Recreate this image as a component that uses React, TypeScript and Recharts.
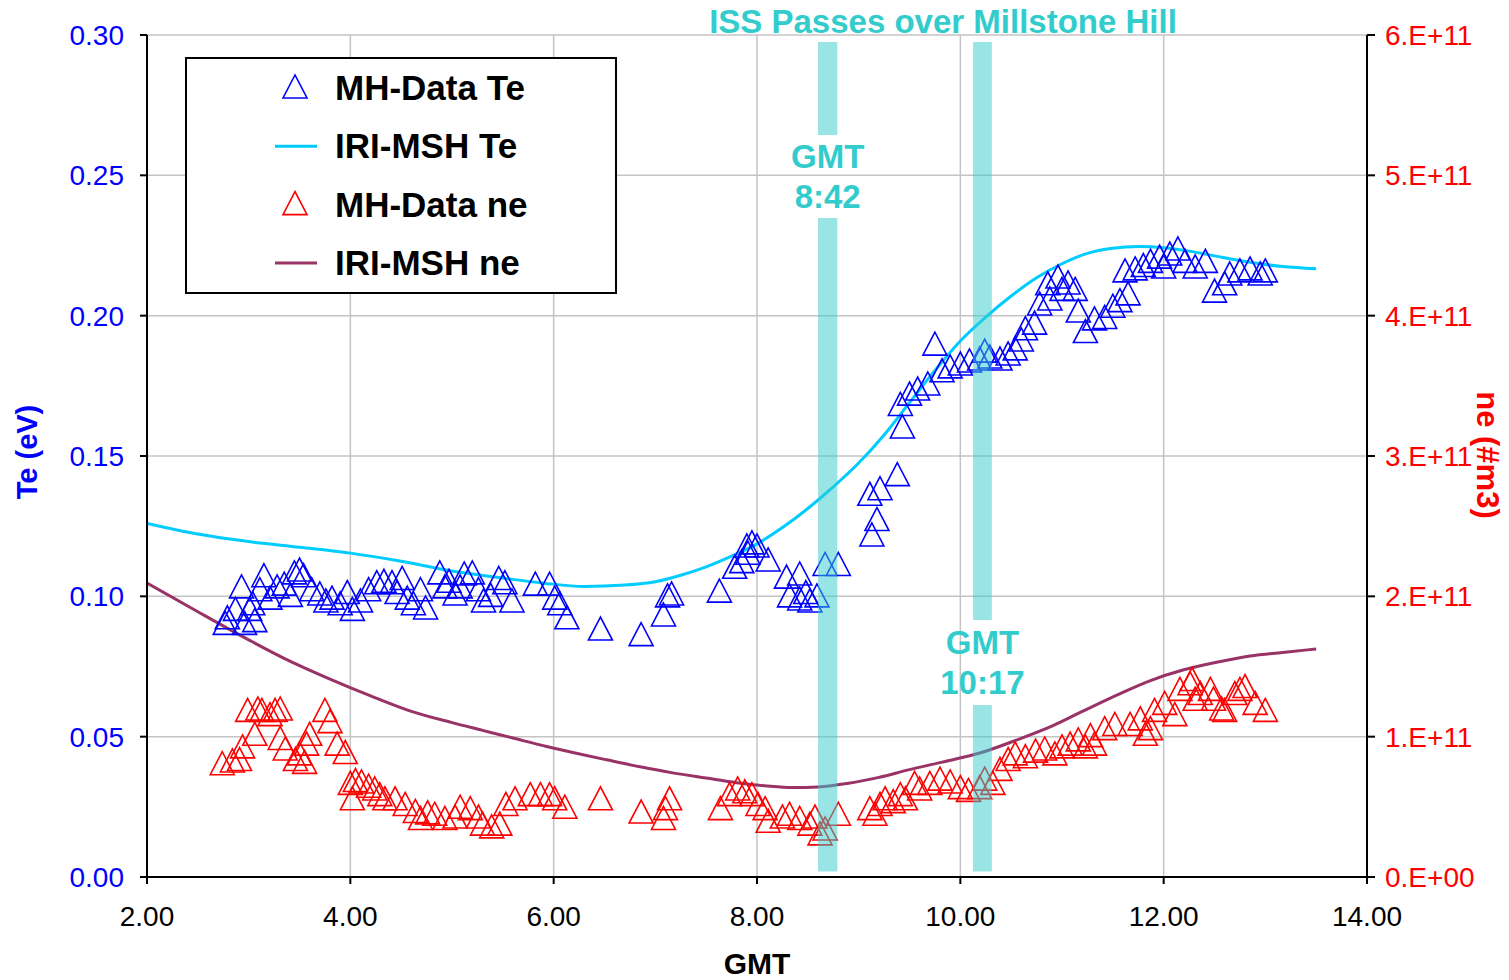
import React from 'react';
import {
  ComposedChart, Line, Scatter, XAxis, YAxis, CartesianGrid, ReferenceArea, Legend,
} from 'recharts';

const FONT = '"Liberation Sans", Arial, Helvetica, sans-serif';
const BLUE = '#0000FF';
const RED = '#FF0000';
const TE_LINE = '#00CCFF';
const NE_LINE = '#993366';
const ISS = '#33CCCC';

// MH-Data Te : [GMT hour, Te (eV)]
const teData: [number, number][] = [
  [2.77, 0.090], [2.79, 0.092], [2.87, 0.095], [2.93, 0.103], [2.96, 0.090], [3.01, 0.095],
  [3.04, 0.097], [3.06, 0.091], [3.11, 0.102], [3.15, 0.107], [3.21, 0.099], [3.28, 0.103],
  [3.35, 0.104], [3.41, 0.100], [3.45, 0.108], [3.50, 0.109], [3.54, 0.107], [3.62, 0.102],
  [3.70, 0.1005], [3.76, 0.098], [3.82, 0.099], [3.90, 0.097], [3.97, 0.101], [4.02, 0.095],
  [4.10, 0.098], [4.18, 0.102], [4.26, 0.1045], [4.33, 0.105], [4.41, 0.1045], [4.46, 0.101],
  [4.51, 0.106], [4.56, 0.099], [4.62, 0.097], [4.69, 0.102], [4.74, 0.0955], [4.88, 0.108],
  [4.93, 0.103], [4.97, 0.105], [5.03, 0.1005], [5.08, 0.103], [5.12, 0.1076], [5.20, 0.108],
  [5.26, 0.102], [5.31, 0.098], [5.38, 0.100], [5.46, 0.106], [5.52, 0.1045], [5.59, 0.098],
  [5.82, 0.104], [5.96, 0.104], [6.01, 0.099], [6.06, 0.097], [6.13, 0.092], [6.46, 0.088],
  [6.86, 0.086], [7.08, 0.093], [7.12, 0.0998], [7.16, 0.1005], [7.63, 0.1015], [7.78, 0.110],
  [7.85, 0.112], [7.91, 0.115], [7.90, 0.1176], [7.95, 0.1187], [8.00, 0.1176], [8.11, 0.1126],
  [8.29, 0.1065], [8.32, 0.0998], [8.42, 0.1076], [8.42, 0.0987], [8.48, 0.101], [8.52, 0.098],
  [8.59, 0.0998], [8.67, 0.111], [8.80, 0.111], [9.11, 0.136], [9.13, 0.1215], [9.18, 0.127],
  [9.21, 0.138], [9.38, 0.143], [9.41, 0.168], [9.43, 0.160], [9.50, 0.1717], [9.58, 0.1735],
  [9.68, 0.1753], [9.75, 0.1895], [9.82, 0.180], [9.90, 0.1814], [10.00, 0.1824], [10.09, 0.1835],
  [10.19, 0.1842], [10.24, 0.187], [10.29, 0.1849], [10.39, 0.1842], [10.47, 0.186], [10.54, 0.1878],
  [10.60, 0.191], [10.64, 0.195], [10.73, 0.197], [10.78, 0.2038], [10.86, 0.211], [10.88, 0.2056],
  [10.96, 0.2134], [11.00, 0.209], [11.06, 0.2113], [11.13, 0.209], [11.16, 0.2013], [11.23, 0.194],
  [11.32, 0.1985], [11.42, 0.199], [11.50, 0.203], [11.57, 0.205], [11.62, 0.2156], [11.65, 0.2074],
  [11.72, 0.2163], [11.80, 0.2175], [11.87, 0.219], [11.96, 0.2205], [12.00, 0.217], [12.06, 0.2216],
  [12.14, 0.2234], [12.21, 0.219], [12.31, 0.217], [12.41, 0.219], [12.50, 0.2084], [12.60, 0.211],
  [12.65, 0.2145], [12.75, 0.2156], [12.85, 0.2163], [12.95, 0.2145], [13.00, 0.2156],
];

// MH-Data ne : [GMT hour, ne in 1E+11 #/m3]
const neData: [number, number][] = [
  [2.74, 0.80], [2.84, 0.82], [2.91, 0.83], [2.94, 0.92], [2.99, 1.18], [3.06, 1.01], [3.09, 1.19],
  [3.13, 1.18], [3.21, 1.15], [3.26, 1.18], [3.31, 1.19], [3.31, 0.98], [3.36, 0.905], [3.46, 0.83],
  [3.50, 0.87], [3.55, 0.81], [3.57, 0.94], [3.60, 1.01], [3.75, 1.18], [3.80, 1.10], [3.87, 0.94],
  [3.95, 0.88], [4.00, 0.66], [4.02, 0.55], [4.05, 0.68], [4.11, 0.67], [4.18, 0.64], [4.24, 0.62],
  [4.29, 0.58], [4.34, 0.55], [4.44, 0.55], [4.54, 0.51], [4.64, 0.46], [4.69, 0.41], [4.76, 0.45],
  [4.83, 0.44], [4.93, 0.41], [5.03, 0.42], [5.08, 0.49], [5.18, 0.48], [5.26, 0.42], [5.30, 0.37],
  [5.39, 0.35], [5.47, 0.37], [5.53, 0.51], [5.62, 0.55], [5.77, 0.58], [5.87, 0.58], [5.96, 0.58],
  [6.01, 0.55], [6.11, 0.49], [6.46, 0.55], [6.86, 0.456], [7.08, 0.41], [7.10, 0.48], [7.14, 0.55],
  [7.64, 0.48], [7.73, 0.58], [7.81, 0.62], [7.88, 0.60], [7.95, 0.58], [8.01, 0.51], [8.08, 0.48],
  [8.11, 0.39], [8.25, 0.42], [8.32, 0.44], [8.42, 0.41], [8.52, 0.37], [8.57, 0.42], [8.62, 0.30],
  [8.67, 0.335], [8.80, 0.44], [9.11, 0.48], [9.16, 0.44], [9.21, 0.51], [9.26, 0.55], [9.34, 0.53],
  [9.41, 0.58], [9.46, 0.55], [9.55, 0.66], [9.60, 0.62], [9.70, 0.66], [9.80, 0.69], [9.90, 0.67],
  [10.00, 0.63], [10.08, 0.61], [10.19, 0.63], [10.24, 0.69], [10.32, 0.66], [10.39, 0.76],
  [10.47, 0.83], [10.54, 0.87], [10.64, 0.85], [10.74, 0.89], [10.83, 0.905], [10.93, 0.87],
  [11.00, 0.92], [11.08, 0.94], [11.16, 0.97], [11.23, 0.92], [11.28, 1.00], [11.32, 0.94],
  [11.42, 1.05], [11.52, 1.08], [11.67, 1.08], [11.77, 1.12], [11.82, 1.01], [11.87, 1.05],
  [11.91, 1.18], [12.01, 1.23], [12.11, 1.15], [12.16, 1.33], [12.26, 1.37], [12.28, 1.40],
  [12.31, 1.26], [12.36, 1.30], [12.46, 1.33], [12.49, 1.26], [12.57, 1.19], [12.60, 1.18],
  [12.70, 1.30], [12.75, 1.33], [12.80, 1.35], [12.90, 1.23], [13.00, 1.18],
];

// IRI-MSH model Te (eV)
const iriTe: [number, number][] = [
  [2.0, 0.126], [2.5, 0.1222], [3.0, 0.1195], [3.5, 0.1175], [4.0, 0.1154], [4.5, 0.1125],
  [5.0, 0.109], [5.5, 0.1065], [5.9, 0.1047], [6.3, 0.1035], [6.7, 0.104], [7.0, 0.1052],
  [7.25, 0.1075], [7.5, 0.1105], [7.75, 0.1143], [8.0, 0.1187], [8.25, 0.1245], [8.5, 0.1313],
  [8.75, 0.139], [9.0, 0.1475], [9.25, 0.1575], [9.5, 0.169], [9.75, 0.1805], [10.0, 0.191],
  [10.25, 0.1995], [10.5, 0.207], [10.75, 0.2135], [11.0, 0.2185], [11.25, 0.2222], [11.5, 0.224],
  [11.75, 0.2246], [12.0, 0.2242], [12.25, 0.223], [12.5, 0.2213], [12.85, 0.219], [13.17, 0.2175],
  [13.5, 0.2167],
];

// IRI-MSH model ne (1E+11 #/m3)
const iriNe: [number, number][] = [
  [2.0, 2.095], [2.5, 1.89], [3.0, 1.69], [3.4, 1.54], [3.8, 1.41], [4.2, 1.29], [4.6, 1.18],
  [5.0, 1.10], [5.3, 1.045], [5.6, 0.99], [5.93, 0.93], [6.2, 0.885], [6.52, 0.835], [6.85, 0.785],
  [7.17, 0.742], [7.5, 0.705], [7.8, 0.672], [8.1, 0.648], [8.35, 0.637], [8.6, 0.642], [8.9, 0.668],
  [9.2, 0.71], [9.5, 0.765], [9.8, 0.815], [10.2, 0.885], [10.55, 0.975], [10.9, 1.075],
  [11.2, 1.18], [11.55, 1.30], [11.87, 1.40], [12.19, 1.475], [12.52, 1.53], [12.85, 1.575],
  [13.17, 1.60], [13.5, 1.625],
];

const xTicks = [2, 4, 6, 8, 10, 12, 14];
const teTicks = [0, 0.05, 0.1, 0.15, 0.2, 0.25, 0.3];
const neTicks = [0, 1, 2, 3, 4, 5, 6];

// ISS passes: band edges in GMT hours, label gap in Te units
const passes = [
  { time: '8:42', x1: 8.6, x2: 8.79, gapLow: 0.2348, gapHigh: 0.2644 },
  { time: '10:17', x1: 10.125, x2: 10.31, gapLow: 0.0613, gapHigh: 0.0916 },
];
const bandTop = 0.2975;
const bandBottom = 0.002;

const legendItems = [
  { name: 'MH-Data Te', kind: 'marker', color: BLUE },
  { name: 'IRI-MSH Te', kind: 'line', color: TE_LINE },
  { name: 'MH-Data ne', kind: 'marker', color: RED },
  { name: 'IRI-MSH ne', kind: 'line', color: NE_LINE },
];

const toPts = (arr: [number, number][]) => arr.map(([x, y]) => ({ x, y }));

const triPoints = (cx: number, cy: number) =>
  `${cx},${cy - 13} ${cx - 12},${cy + 10} ${cx + 12},${cy + 10}`;

const triangle = (color: string) => (props: any) => {
  const { cx, cy } = props;
  if (cx == null || cy == null) return <g />;
  return <polygon points={triPoints(cx, cy)} fill="none" stroke={color} strokeWidth={1.6} />;
};

const renderLegend = () => (
  <svg width={432} height={237} style={{ display: 'block', fontFamily: FONT }}>
    <rect x={1} y={1} width={430} height={235} fill="#fff" stroke="#000" strokeWidth={2} />
    {legendItems.map((it, i) => {
      const y = 31 + i * 58.3;
      return (
        <g key={it.name}>
          {it.kind === 'marker' ? (
            <polygon points={triPoints(110, y)} fill="none" stroke={it.color} strokeWidth={1.6} />
          ) : (
            <line x1={90} x2={132} y1={y} y2={y} stroke={it.color} strokeWidth={3} />
          )}
          <text x={150} y={y + 12} fontSize={35} fontWeight="bold" fill="#000">{it.name}</text>
        </g>
      );
    })}
  </svg>
);

const gapLabel = (time: string) => (props: any) => {
  const { x, y, width, height } = props.viewBox;
  const cx = x + width / 2;
  const cy = y + height / 2;
  return (
    <text textAnchor="middle" fill={ISS} fontSize={33} fontWeight="bold" fontFamily={FONT}>
      <tspan x={cx} y={cy - 8}>GMT</tspan>
      <tspan x={cx} y={cy + 32}>{time}</tspan>
    </text>
  );
};

export default function App() {
  return (
    <div style={{ position: 'absolute', left: 0, top: 0, width: 1509, height: 980, background: '#fff', fontFamily: FONT }}>
      <div
        style={{
          position: 'absolute', left: 643, top: 5, width: 600, textAlign: 'center', zIndex: 2,
          fontSize: 33, lineHeight: '33px', fontWeight: 'bold', color: ISS,
        }}
      >
        ISS Passes over Millstone Hill
      </div>
      <ComposedChart width={1509} height={980} margin={{ top: 35, right: 0, bottom: 0, left: 0 }}>
        <CartesianGrid yAxisId="te" stroke="#C4C4C4" strokeWidth={1.5} />
        <XAxis
          type="number" dataKey="x" domain={[2, 14]} ticks={xTicks} height={103}
          tickFormatter={(v: number) => v.toFixed(2)}
          tick={{ fill: '#000', fontSize: 28, fontFamily: FONT }}
          tickSize={7} tickMargin={22}
          axisLine={{ stroke: '#000', strokeWidth: 2 }} tickLine={{ stroke: '#000', strokeWidth: 2 }}
          label={{ value: 'GMT', position: 'insideBottom', offset: 6, fill: '#000', fontSize: 30, fontWeight: 'bold', fontFamily: FONT }}
          allowDataOverflow
        />
        <YAxis
          yAxisId="te" type="number" dataKey="y" domain={[0, 0.3]} ticks={teTicks} width={147}
          tickFormatter={(v: number) => v.toFixed(2)}
          tick={{ fill: BLUE, fontSize: 28, fontFamily: FONT }}
          tickSize={7} tickMargin={16}
          axisLine={{ stroke: '#000', strokeWidth: 2 }} tickLine={{ stroke: '#000', strokeWidth: 2 }}
          label={{
            content: () => (
              <text x={27} y={452} transform="rotate(-90, 27, 452)" textAnchor="middle" dominantBaseline="central"
                fill={BLUE} fontSize={29} fontWeight="bold" fontFamily={FONT}>Te (eV)</text>
            ),
          }}
          allowDataOverflow
        />
        <YAxis
          yAxisId="ne" orientation="right" type="number" dataKey="y" domain={[0, 6]} ticks={neTicks} width={142}
          tickFormatter={(v: number) => (v === 0 ? '0.E+00' : `${v}.E+11`)}
          tick={{ fill: RED, fontSize: 28, fontFamily: FONT }}
          tickSize={8} tickMargin={10}
          axisLine={{ stroke: '#000', strokeWidth: 2 }} tickLine={{ stroke: '#000', strokeWidth: 2 }}
          label={{
            content: () => (
              <text x={1487} y={455} transform="rotate(90, 1487, 455)" textAnchor="middle" dominantBaseline="central"
                fill={RED} fontSize={31} fontWeight="bold" fontFamily={FONT}>ne (#m3)</text>
            ),
          }}
          allowDataOverflow
        />
        <Legend
          layout="horizontal" verticalAlign="middle" align="center"
          wrapperStyle={{ left: 185, top: 57, width: 432, height: 237 }}
          content={renderLegend}
        />
        <Scatter yAxisId="ne" name="MH-Data ne" data={toPts(neData)} fill={RED} shape={triangle(RED)} isAnimationActive={false} />
        <Scatter yAxisId="te" name="MH-Data Te" data={toPts(teData)} fill={BLUE} shape={triangle(BLUE)} isAnimationActive={false} />
        <Line yAxisId="ne" name="IRI-MSH ne" data={toPts(iriNe)} dataKey="y" type="monotone" stroke={NE_LINE} strokeWidth={3} dot={false} isAnimationActive={false} />
        <Line yAxisId="te" name="IRI-MSH Te" data={toPts(iriTe)} dataKey="y" type="monotone" stroke={TE_LINE} strokeWidth={3} dot={false} isAnimationActive={false} />
        {passes.flatMap((p) => [
          <ReferenceArea key={`${p.time}-lo`} yAxisId="te" x1={p.x1} x2={p.x2} y1={bandBottom} y2={p.gapLow}
            fill={ISS} fillOpacity={0.5} stroke="none" zIndex={1000} />,
          <ReferenceArea key={`${p.time}-hi`} yAxisId="te" x1={p.x1} x2={p.x2} y1={p.gapHigh} y2={bandTop}
            fill={ISS} fillOpacity={0.5} stroke="none" zIndex={1000} />,
          <ReferenceArea key={`${p.time}-gap`} yAxisId="te" x1={p.x1} x2={p.x2} y1={p.gapLow} y2={p.gapHigh}
            fill="none" fillOpacity={0} stroke="none" zIndex={1000} label={{ content: gapLabel(p.time) }} />,
        ])}
      </ComposedChart>
    </div>
  );
}
